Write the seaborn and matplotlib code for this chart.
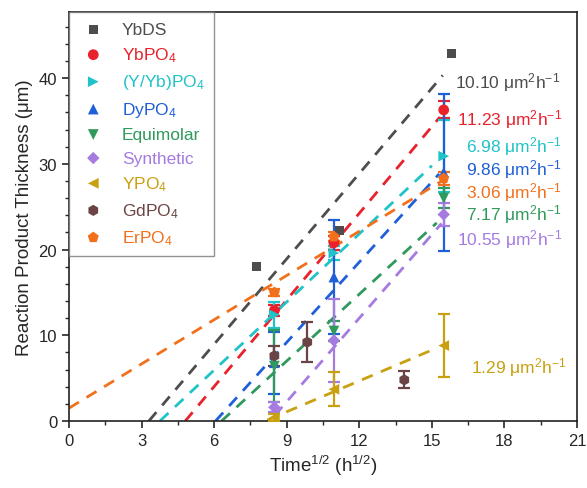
import matplotlib
matplotlib.use("Agg")
import matplotlib.pyplot as plt
import seaborn as sns
import pandas as pd
from matplotlib.ticker import MultipleLocator

# sample names and legend labels
names = ["YbDS", "YbPO4", "(Y/Yb)PO4", "DyPO4", "Equimolar", "Synthetic", "YPO4", "GdPO4", "ErPO4"]
labels = ["YbDS", "YbPO$_4$", "(Y/Yb)PO$_4$", "DyPO$_4$", "Equimolar", "Synthetic", "YPO$_4$", "GdPO$_4$", "ErPO$_4$"]

# measured points: sqrt(time), thickness, error
x_ybds = [7.75, 11.18, 15.81]
y_ybds = [18.0, 22.2, 42.9]
e_ybds = [0.0, 0.0, 0.0]

x_std = [8.49, 10.95, 15.49]
y_ybpo4 = [12.9, 20.8, 36.3]
e_ybpo4 = [0.6, 0.8, 1.0]
y_yyb = [12.4, 19.6, 30.9]
e_yyb = [1.5, 0.8, 4.2]
y_dy = [6.8, 16.8, 29.0]
e_dy = [3.6, 6.6, 9.2]
y_equi = [6.4, 10.5, 26.0]
e_equi = [4.2, 1.2, 1.2]
y_syn = [1.6, 9.4, 24.1]
e_syn = [0.6, 4.8, 1.3]
y_ypo4 = [0.4, 3.7, 8.8]
e_ypo4 = [0.4, 2.0, 3.7]
x_gd = [8.49, 9.85, 13.86]
y_gd = [7.6, 9.2, 4.8]
e_gd = [1.2, 2.3, 1.0]
y_er = [15.0, 21.5, 28.3]
e_er = [0.4, 0.5, 0.8]

# linear fits (slope, intercept, x range)
fit_names = ["YbDS", "YbPO4", "(Y/Yb)PO4", "DyPO4", "Equimolar", "Synthetic", "YPO4", "ErPO4"]
fit_slope = [3.32, 3.37, 2.65, 3.12, 2.60, 3.25, 1.20, 1.72]
fit_icpt = [-10.96, -16.2, -9.96, -18.9, -16.4, -27.0, -9.72, 1.5]
fit_xmin = [3.3, 4.8, 3.76, 6.05, 6.3, 8.5, 8.2, 0.0]
fit_xmax = [15.45, 15.33, 15.0, 15.3, 15.2, 15.4, 15.2, 15.45]

# rate constants (um^2/h) and where they are written
k_names = ["YbDS", "YbPO4", "(Y/Yb)PO4", "DyPO4", "ErPO4", "Equimolar", "Synthetic", "YPO4"]
k_text = ["10.10", "11.23", "6.98", "9.86", "3.06", "7.17", "10.55", "1.29"]
k_x = [15.95, 16.05, 16.4, 16.4, 16.4, 16.4, 16.05, 16.6]
k_y = [39.6, 35.3, 32.1, 29.4, 26.8, 24.2, 21.3, 6.3]

colors = {
    "YbDS": "#4d4d4d", "YbPO4": "#e8212b", "(Y/Yb)PO4": "#1fc3c8", "DyPO4": "#1f5fd8",
    "Equimolar": "#2f9a5c", "Synthetic": "#a57be0", "YPO4": "#c9a010",
    "GdPO4": "#6b4545", "ErPO4": "#f2701c",
}
markers = {
    "YbDS": "s", "YbPO4": "o", "(Y/Yb)PO4": ">", "DyPO4": "^", "Equimolar": "v",
    "Synthetic": "D", "YPO4": "<", "GdPO4": "h", "ErPO4": "p",
}
msize = {"YbDS": 45, "YbPO4": 60, "(Y/Yb)PO4": 60, "DyPO4": 60, "Equimolar": 60,
         "Synthetic": 40, "YPO4": 60, "GdPO4": 65, "ErPO4": 70}

pts = pd.concat([
    pd.DataFrame({"x": x_ybds, "y": y_ybds, "e": e_ybds, "s": "YbDS"}),
    pd.DataFrame({"x": x_std, "y": y_ybpo4, "e": e_ybpo4, "s": "YbPO4"}),
    pd.DataFrame({"x": x_std, "y": y_yyb, "e": e_yyb, "s": "(Y/Yb)PO4"}),
    pd.DataFrame({"x": x_std, "y": y_dy, "e": e_dy, "s": "DyPO4"}),
    pd.DataFrame({"x": x_std, "y": y_equi, "e": e_equi, "s": "Equimolar"}),
    pd.DataFrame({"x": x_std, "y": y_syn, "e": e_syn, "s": "Synthetic"}),
    pd.DataFrame({"x": x_std, "y": y_ypo4, "e": e_ypo4, "s": "YPO4"}),
    pd.DataFrame({"x": x_gd, "y": y_gd, "e": e_gd, "s": "GdPO4"}),
    pd.DataFrame({"x": x_std, "y": y_er, "e": e_er, "s": "ErPO4"}),
])

sns.set_style("ticks")
plt.rcParams["font.family"] = ["Liberation Sans", "DejaVu Sans"]
plt.rcParams["mathtext.fontset"] = "custom"
plt.rcParams["mathtext.rm"] = "Liberation Sans"
plt.rcParams["mathtext.it"] = "Liberation Sans:italic"

fig, ax = plt.subplots(figsize=(5.87, 4.89), dpi=100)
fig.subplots_adjust(left=0.1175, right=0.983, bottom=0.137, top=0.973)

# dashed fit lines
for i, n in enumerate(fit_names):
    fx = [fit_xmin[i], fit_xmax[i]]
    fy = [fit_slope[i] * v + fit_icpt[i] for v in fx]
    sns.lineplot(x=fx, y=fy, color=colors[n], lw=2, dashes=False, ax=ax,
                 legend=False, zorder=2).lines[-1].set_dashes((4.2, 3.2))

# error bars
for n in names:
    d = pts[pts.s == n]
    if d.e.sum() > 0:
        ax.errorbar(d.x, d.y, yerr=d.e, fmt="none", ecolor=colors[n], elinewidth=1.6,
                    capsize=4, capthick=1.6, zorder=3)

# markers
for n, lab in zip(names, labels):
    d = pts[pts.s == n]
    sns.scatterplot(x=d.x, y=d.y, color=colors[n], marker=markers[n], s=msize[n],
                    edgecolor="none", label=lab, ax=ax, zorder=4)

# rate constant annotations
for n, t, tx, ty in zip(k_names, k_text, k_x, k_y):
    ax.text(tx, ty, t + " μm$^2$h$^{-1}$", color=colors[n], fontsize=12.5, va="center", ha="left")

ax.set_xlim(0, 21)
ax.set_ylim(0, 47.7)
ax.xaxis.set_major_locator(MultipleLocator(3))
ax.xaxis.set_minor_locator(MultipleLocator(1.5))
ax.yaxis.set_major_locator(MultipleLocator(10))
ax.yaxis.set_minor_locator(MultipleLocator(2))
ax.tick_params(which="major", length=5, width=1.2, labelsize=12, direction="out")
ax.tick_params(which="minor", length=3, width=1.0, direction="out")
for sp in ax.spines.values():
    sp.set_linewidth(1.2)
    sp.set_color("#222222")

ax.set_xlabel("Time$^{1/2}$ (h$^{1/2}$)", fontsize=13.5)
ax.set_ylabel("Reaction Product Thickness (μm)", fontsize=13.5)

leg = ax.legend(loc="upper left", borderaxespad=0, fontsize=12.5, frameon=True, fancybox=False,
                handletextpad=0.8, labelspacing=0.48, borderpad=0.55, handlelength=1.7)
leg.get_frame().set_edgecolor("#777777")
leg.get_frame().set_linewidth(1.0)
for txt, n in zip(leg.get_texts(), names):
    txt.set_color(colors[n])

plt.savefig("out.png", dpi=100)
